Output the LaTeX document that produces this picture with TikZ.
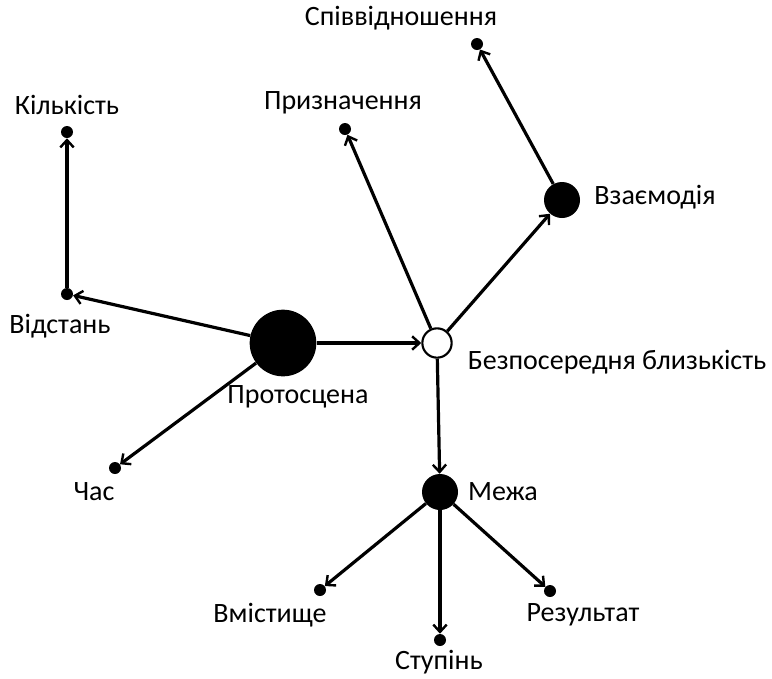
\documentclass[tikz,border=0pt]{standalone}
\usepackage{fontspec}
\setmainfont{Carlito}
\usetikzlibrary{arrows.meta}

\tikzset{
  dot/.style={circle, fill=black, inner sep=0pt},
  bigdot/.style={dot, minimum size=50pt},
  middot/.style={dot, minimum size=27pt},
  smalldot/.style={dot, minimum size=9pt},
  opendot/.style={circle, draw=black, fill=white, line width=1.6pt, inner sep=0pt, minimum size=22pt},
  word/.style={font=\fontsize{21}{24}\selectfont, inner sep=0pt},
  arr/.style={line width=2.4pt, -{Straight Barb[length=5.5pt, width=10pt, line width=1.8pt]}}
}

\begin{document}
\begin{tikzpicture}[x=0.75pt, y=-0.75pt]
\useasboundingbox (0,0) rectangle (772,679);

% centres
\node[bigdot] (proto) at (283,343) {};
\node[opendot] (bez) at (437,343) {};
\node[middot] (vzaem) at (562,200) {};
\node[middot] (mezha) at (440,492) {};

% ends
\node[smalldot] (spiv) at (477,44) {};
\node[smalldot] (pryzn) at (345,129) {};
\node[smalldot] (kilk) at (67,132) {};
\node[smalldot] (vidst) at (67,294) {};
\node[smalldot] (chas) at (115,468) {};
\node[smalldot] (vmist) at (320,590) {};
\node[smalldot] (stup) at (440,640) {};
\node[smalldot] (rez) at (550,591) {};

% labels
\node[word] (l-proto) at (298,397) {Протосцена};
\node[word] (l-bez) at (617,362) {Безпосередня близькість};
\node[word] (l-vzaem) at (655,197) {Взаємодія};
\node[word] (l-mezha) at (503,492) {Межа};
\node[word] (l-spiv) at (401,18) {Співвідношення};
\node[word] (l-pryzn) at (343,103) {Призначення};
\node[word] (l-kilk) at (67,105) {Кількість};
\node[word] (l-vidst) at (60,326) {Відстань};
\node[word] (l-chas) at (94,492) {Час};
\node[word] (l-vmist) at (270,615) {Вмістище};
\node[word] (l-stup) at (439,662) {Ступінь};
\node[word] (l-rez) at (583,615) {Результат};

\draw[arr] (proto) -- (bez);
\draw[arr] (proto) -- (vidst);
\draw[arr] (proto) -- (chas);
\draw[arr] (vidst) -- (kilk);
\draw[arr] (bez) -- (pryzn);
\draw[arr] (bez) -- (vzaem);
\draw[arr] (bez) -- (mezha);
\draw[arr] (vzaem) -- (spiv);
\draw[arr] (mezha) -- (vmist);
\draw[arr] (mezha) -- (stup);
\draw[arr] (mezha) -- (rez);
\end{tikzpicture}
\end{document}
